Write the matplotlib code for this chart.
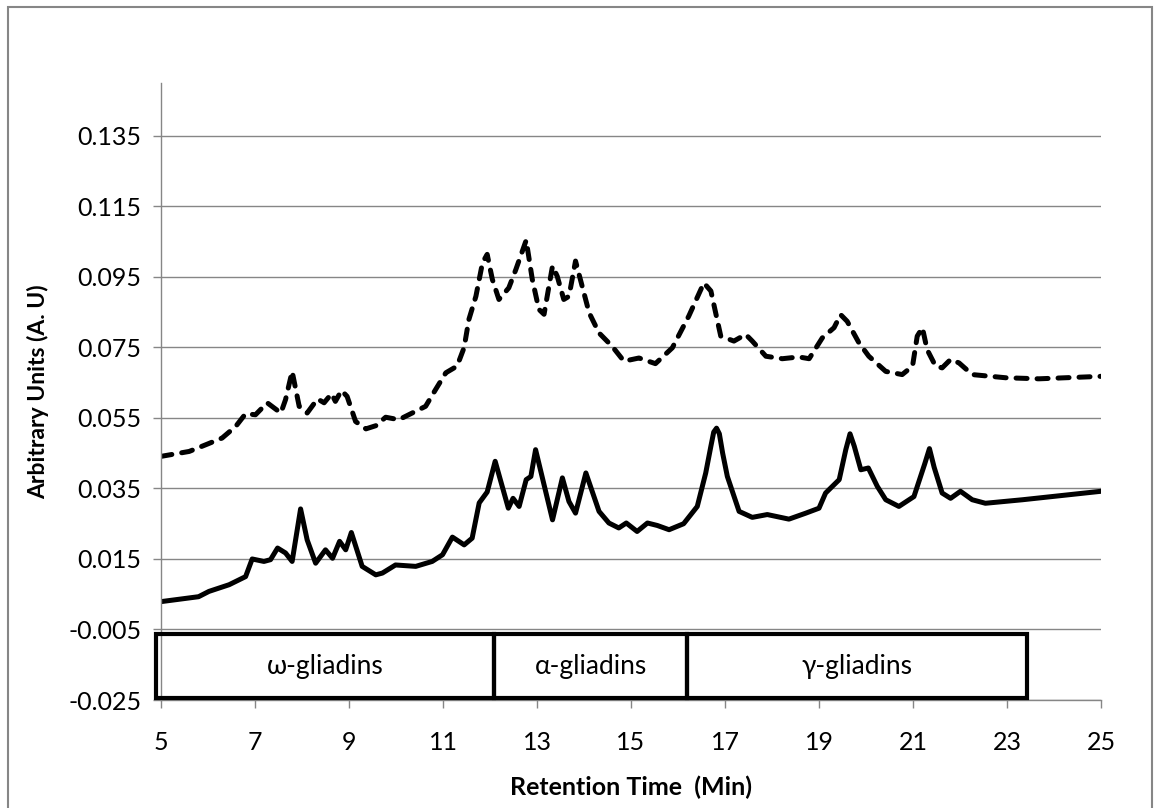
import matplotlib.pyplot as plt
from matplotlib.patches import Rectangle

# RP-HPLC gliadin profiles (two samples)
time_solid = [5.0, 5.8, 6.02, 6.45, 6.8, 6.94, 7.19, 7.33, 7.48, 7.65, 7.79, 7.97,
              8.11, 8.29, 8.5, 8.65, 8.8, 8.93, 9.05, 9.28, 9.57, 9.71, 9.99, 10.42,
              10.77, 10.99, 11.2, 11.45, 11.62, 11.77, 11.94, 12.11, 12.39, 12.49,
              12.62, 12.77, 12.87, 12.97, 13.33, 13.54, 13.68, 13.82, 14.04, 14.32,
              14.53, 14.74, 14.9, 15.13, 15.35, 15.56, 15.81, 16.12, 16.41, 16.59,
              16.7, 16.76, 16.82, 16.88, 16.95, 17.05, 17.3, 17.58, 17.9, 18.36,
              18.72, 19.0, 19.14, 19.43, 19.57, 19.66, 19.75, 19.89, 20.05, 20.24,
              20.42, 20.7, 21.02, 21.25, 21.35, 21.45, 21.62, 21.8, 22.01, 22.26,
              22.54, 23.33, 25.0]
au_solid = [0.0029, 0.0043, 0.0058, 0.0077, 0.0100, 0.0150, 0.0143, 0.0148, 0.0181,
            0.0167, 0.0143, 0.0292, 0.0204, 0.0138, 0.0176, 0.0152, 0.0200, 0.0176,
            0.0225, 0.0129, 0.0105, 0.0110, 0.0133, 0.0129, 0.0143, 0.0162, 0.0212,
            0.0190, 0.0209, 0.0309, 0.0340, 0.0427, 0.0294, 0.0322, 0.0299, 0.0375,
            0.0384, 0.0460, 0.0261, 0.0380, 0.0313, 0.0280, 0.0394, 0.0285, 0.0252,
            0.0238, 0.0252, 0.0228, 0.0252, 0.0245, 0.0233, 0.0250, 0.0299, 0.0394,
            0.0470, 0.0510, 0.0521, 0.0505, 0.0450, 0.0384, 0.0285, 0.0268, 0.0276,
            0.0263, 0.0280, 0.0294, 0.0337, 0.0375, 0.0460, 0.0505, 0.0470, 0.0403,
            0.0408, 0.0356, 0.0318, 0.0299, 0.0327, 0.0420, 0.0463, 0.0410, 0.0337,
            0.0322, 0.0342, 0.0318, 0.0308, 0.0318, 0.0342]

time_dashed = [5.0, 5.6, 5.99, 6.3, 6.59, 6.8, 7.01, 7.26, 7.55, 7.65, 7.79, 7.94,
               8.11, 8.33, 8.47, 8.63, 8.71, 8.84, 8.96, 9.14, 9.36, 9.57, 9.78,
               10.06, 10.42, 10.63, 10.84, 11.06, 11.3, 11.45, 11.55, 11.7, 11.84,
               11.94, 12.05, 12.19, 12.4, 12.55, 12.77, 12.9, 13.04, 13.15, 13.33,
               13.43, 13.57, 13.68, 13.82, 13.96, 14.11, 14.32, 14.6, 14.85, 15.17,
               15.52, 15.88, 16.23, 16.55, 16.7, 16.91, 17.19, 17.44, 17.58, 17.87,
               18.22, 18.57, 18.79, 19.07, 19.32, 19.46, 19.6, 19.85, 20.06, 20.42,
               20.77, 20.99, 21.09, 21.2, 21.3, 21.48, 21.62, 21.8, 21.98, 22.26,
               22.97, 23.68, 25.0]
au_dashed = [0.0441, 0.0455, 0.0476, 0.0493, 0.0526, 0.0562, 0.0559, 0.0593, 0.0564,
             0.0602, 0.0682, 0.0583, 0.0564, 0.0604, 0.0593, 0.0619, 0.0597, 0.0628,
             0.0611, 0.0540, 0.0519, 0.0528, 0.0552, 0.0545, 0.0569, 0.0583, 0.0630,
             0.0678, 0.0697, 0.0750, 0.0829, 0.0895, 0.0990, 0.1014, 0.0943, 0.0886,
             0.0919, 0.0971, 0.1054, 0.0943, 0.0858, 0.0844, 0.0981, 0.0952, 0.0886,
             0.0895, 0.0995, 0.0924, 0.0848, 0.0791, 0.0753, 0.0711, 0.0720, 0.0704,
             0.0749, 0.0839, 0.0933, 0.0910, 0.0782, 0.0768, 0.0787, 0.0768, 0.0725,
             0.0718, 0.0723, 0.0718, 0.0777, 0.0806, 0.0843, 0.0824, 0.0763, 0.0725,
             0.0682, 0.0673, 0.0697, 0.0782, 0.0806, 0.0744, 0.0697, 0.0692, 0.0716,
             0.0706, 0.0673, 0.0664, 0.0661, 0.0668]

# gliadin fractions: label and retention-time span
fractions = ["ω-gliadins", "α-gliadins", "γ-gliadins"]
frac_start = [4.89, 12.09, 16.19]
frac_end = [12.09, 16.19, 23.43]

x_ticks = [5, 7, 9, 11, 13, 15, 17, 19, 21, 23, 25]
y_ticks = [-0.025, -0.005, 0.015, 0.035, 0.055, 0.075, 0.095, 0.115, 0.135]

plt.rcParams['font.family'] = ['Lato', 'DejaVu Sans']
grey = '#868686'

fig = plt.figure(figsize=(11.61, 8.08), dpi=100)
fig.patches.append(Rectangle((8 / 1161, -0.05), 1144 / 1161, 1.05 - 7 / 808,
                             transform=fig.transFigure, fill=False,
                             edgecolor=grey, linewidth=1.5))
ax = fig.add_axes([161 / 1161, 1 - 700 / 808, 940 / 1161, 617 / 808])

ax.plot(time_dashed, au_dashed, color='black', lw=3.6,
        linestyle=(0, (2.2, 2.0)), dash_capstyle='round', dash_joinstyle='round')
ax.plot(time_solid, au_solid, color='black', lw=3.6, solid_joinstyle='round',
        solid_capstyle='round')

# fraction boxes along the bottom
box_lo, box_hi = -0.0245, -0.0063
for name, a, b in zip(fractions, frac_start, frac_end):
    ax.add_patch(Rectangle((a, box_lo), b - a, box_hi - box_lo, fill=False,
                           edgecolor='black', linewidth=3, clip_on=False, zorder=5))
    ax.text((a + b) / 2, (box_lo + box_hi) / 2, name, ha='center', va='center',
            fontsize=19, zorder=6)

ax.set_xlim(5, 25)
ax.set_ylim(-0.025, 0.15)
ax.set_xticks(x_ticks)
ax.set_yticks(y_ticks)
ax.set_yticklabels(["%.3f" % v for v in y_ticks])
ax.grid(axis='y', color=grey, linewidth=1)
ax.set_axisbelow(True)
for s in ['top', 'right']:
    ax.spines[s].set_visible(False)
for s in ['left', 'bottom']:
    ax.spines[s].set_color(grey)
    ax.spines[s].set_linewidth(1)
ax.tick_params(colors=grey, labelcolor='black', labelsize=18, length=6, width=1,
               direction='out')
ax.tick_params(axis='x', pad=16)
ax.tick_params(axis='y', pad=8)

ax.set_xlabel("Retention Time  (Min)", fontsize=18, fontweight='bold', labelpad=16)
ax.set_ylabel("Arbitrary Units (A. U)", fontsize=16.5, fontweight='bold', labelpad=14)

fig.savefig("out.png", dpi=100)
